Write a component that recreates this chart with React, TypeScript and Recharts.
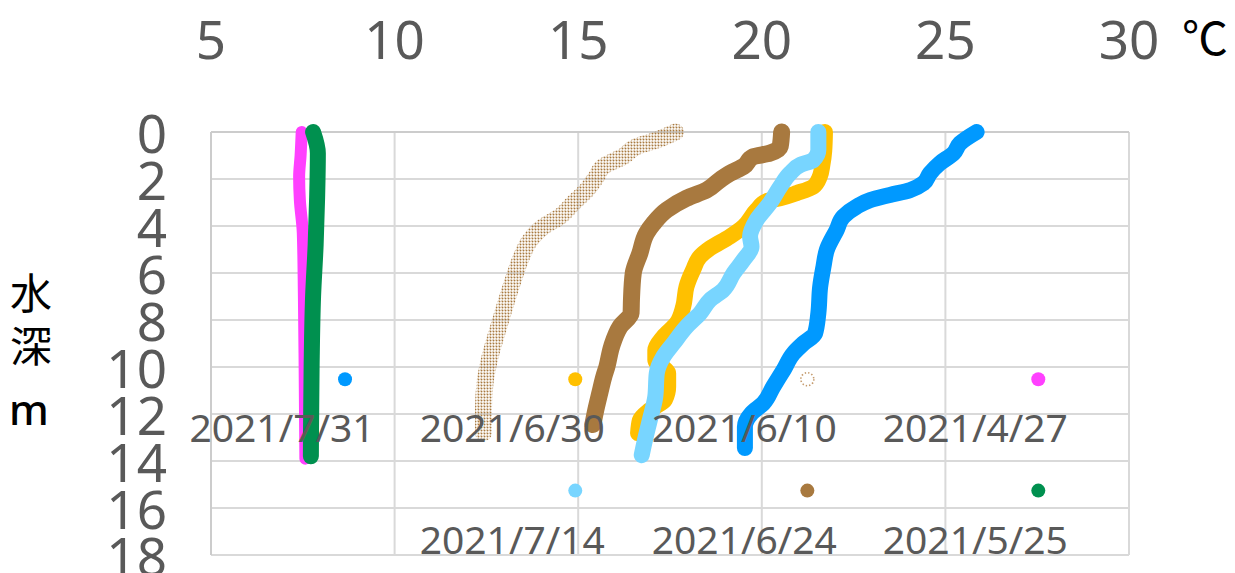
import { CartesianGrid, Scatter, ScatterChart, XAxis, YAxis } from "recharts";

type Pt = { t: number; d: number };
const toPts = (rows: number[][]): Pt[] => rows.map(([t, d]) => ({ t, d }));

// water temperature (°C) vs depth (m)
const apr27 = toPts([
  [7.47, 0], [7.44, 1], [7.4, 1.9], [7.42, 2.9], [7.5, 4.3], [7.53, 7], [7.55, 10], [7.57, 13.9],
]);
const may25 = toPts([
  [7.78, 0], [7.91, 0.9], [7.89, 2.8], [7.85, 4.8], [7.78, 7], [7.74, 10], [7.72, 13.8],
]);
const jun10 = toPts([
  [17.65, 0], [17.14, 0.34], [16.59, 0.62], [16.22, 1.05], [15.68, 1.47], [15.5, 1.9],
  [15.23, 2.47], [14.86, 3.03], [14.5, 3.6], [14.05, 4.03], [13.69, 4.6], [13.46, 5.3],
  [13.23, 6.3], [13.0, 7.43], [12.78, 8.57], [12.6, 9.56], [12.46, 10.7], [12.42, 11.83],
  [12.42, 12.8],
]);
const jun24 = toPts([
  [20.54, 0], [20.5, 0.62], [20.22, 0.9], [19.77, 1.05], [19.5, 1.47], [19.13, 1.76],
  [18.86, 2.04], [18.5, 2.47], [17.95, 2.82], [17.41, 3.32], [17.05, 3.89], [16.86, 4.31],
  [16.68, 5.16], [16.5, 6.0], [16.45, 7.15], [16.44, 7.7], [16.14, 8.28], [15.91, 9.13],
  [15.78, 10.0], [15.7, 10.4], [15.59, 11.1], [15.46, 11.97], [15.4, 12.45],
]);
const jun30 = toPts([
  [21.72, 0], [21.7, 0.8], [21.65, 1.4], [21.58, 1.9], [21.4, 2.33], [20.95, 2.6],
  [20.5, 2.82], [20.13, 2.95], [19.86, 3.32], [19.5, 4.03], [19.13, 4.45], [18.59, 4.95],
  [18.32, 5.3], [18.13, 5.87], [17.95, 6.58], [17.86, 7.43], [17.68, 8.14], [17.32, 8.71],
  [17.1, 9.28], [17.1, 9.7], [17.45, 10.27], [17.45, 10.84], [17.36, 11.4], [16.95, 11.83],
  [16.68, 12.26], [16.63, 12.82],
]);
const jul14 = toPts([
  [21.54, 0], [21.54, 0.77], [21.4, 1.2], [21.05, 1.4], [20.77, 1.76], [20.5, 2.33],
  [20.22, 3.03], [19.86, 3.74], [19.68, 4.45], [19.72, 4.88], [19.5, 5.45], [19.23, 6.01],
  [18.95, 6.72], [18.59, 7.15], [18.32, 7.71], [17.95, 8.28], [17.59, 9.0], [17.32, 9.56],
  [17.14, 10.27], [17.1, 11.26], [16.95, 12.26], [16.82, 13.1], [16.73, 13.75],
]);
const jul31 = toPts([
  [25.85, 0], [25.4, 0.48], [25.22, 0.91], [24.85, 1.33], [24.58, 1.76], [24.4, 2.18],
  [24.04, 2.47], [23.49, 2.68], [22.95, 2.9], [22.58, 3.18], [22.22, 3.6], [22.04, 4.17],
  [21.77, 5.02], [21.68, 5.73], [21.59, 6.58], [21.54, 7.71], [21.45, 8.57], [21.13, 9.0],
  [20.86, 9.42], [20.59, 10.13], [20.31, 10.84], [20.04, 11.55], [19.72, 11.97],
  [19.54, 12.54], [19.54, 13.45],
]);

// key markers (one point per date) drawn inside the plot
const keyTemps = [8.65, 14.92, 21.24, 27.53];
const keyDepths = [10.52, 15.26];
const keyRow1 = ["2021/7/31", "2021/6/30", "2021/6/10", "2021/4/27"];
const keyRow2 = ["", "2021/7/14", "2021/6/24", "2021/5/25"];

const tempTicks = [5, 10, 15, 20, 25, 30];
const depthTicks = [0, 2, 4, 6, 8, 10, 12, 14, 16, 18];

const GRAY = "#595959";
const FONT = "'Noto Sans', sans-serif";
const CJK = "'Noto Sans CJK JP', sans-serif";

const series = [
  { name: "2021/4/27", data: apr27, color: "#FF40FF", width: 12 },
  { name: "2021/5/25", data: may25, color: "#00904F", width: 16 },
  { name: "2021/6/10", data: jun10, color: "url(#dots)", width: 17 },
  { name: "2021/6/24", data: jun24, color: "#A8793F", width: 17 },
  { name: "2021/6/30", data: jun30, color: "#FFC000", width: 16 },
  { name: "2021/7/14", data: jul14, color: "#78D5FF", width: 16 },
  { name: "2021/7/31", data: jul31, color: "#0099FF", width: 16 },
];

const keyColors: Record<string, string> = {
  "2021/7/31": "#0099FF",
  "2021/6/30": "#FFC000",
  "2021/6/10": "dotted",
  "2021/4/27": "#FF40FF",
  "2021/7/14": "#78D5FF",
  "2021/6/24": "#A8793F",
  "2021/5/25": "#00904F",
};

const keyData = [
  ...keyRow1.map((label, i) => ({ t: keyTemps[i], d: keyDepths[0], label })),
  ...keyRow2.map((label, i) => ({ t: keyTemps[i], d: keyDepths[1], label })).filter((k) => k.label),
];

const noMarker = () => <g />;

const KeyMarker = (props: any) => {
  const { cx, cy, payload } = props;
  const c = keyColors[payload.label];
  return (
    <g>
      {c === "dotted" ? (
        <circle cx={cx} cy={cy} r={6.5} fill="none" stroke="#C49A6C" strokeWidth={1.6} strokeDasharray="1.4 2" />
      ) : (
        <circle cx={cx} cy={cy} r={7} fill={c} />
      )}
      <text x={cx - 63} y={cy + 63} textAnchor="middle" fontSize={39} fill={GRAY} fontFamily={FONT}>
        {payload.label}
      </text>
    </g>
  );
};

const TopTick = (props: any) => {
  const { x, payload } = props;
  return (
    <g>
      <text x={x} y={59} textAnchor="middle" fontSize={53} fill={GRAY} fontFamily={FONT}>
        {payload.value}
      </text>
      {payload.value === 30 && (
        <text x={x + 76} y={55} textAnchor="middle" fontSize={46} fill="#000" fontFamily={CJK}>
          ℃
        </text>
      )}
    </g>
  );
};

const LeftTick = (props: any) => {
  const { y, payload } = props;
  return (
    <text x={167} y={y + 21} textAnchor="end" fontSize={53} fill={GRAY} fontFamily={FONT}>
      {payload.value}
    </text>
  );
};

const depthTitle = () => (
  <g fill="#000">
    <text x={31} y={309} textAnchor="middle" fontSize={42} fontFamily={CJK}>水</text>
    <text x={31} y={362} textAnchor="middle" fontSize={42} fontFamily={CJK}>深</text>
    <text x={29} y={425} textAnchor="middle" fontSize={42} fontWeight={500} fontFamily={FONT}>m</text>
  </g>
);

export default function App() {
  return (
    <div style={{ position: "relative", margin: "-8px 0 0 -8px", width: 1235, height: 573 }}>
      <svg width={0} height={0} style={{ position: "absolute" }}>
        <defs>
          <pattern id="dots" width={3} height={3} patternUnits="userSpaceOnUse">
            <circle cx={1.5} cy={1.5} r={1} fill="#A8793F" />
            <circle cx={0} cy={0} r={0.5} fill="#A8793F" />
          </pattern>
        </defs>
      </svg>
      <ScatterChart width={1235} height={573} margin={{ top: 0, right: 106, bottom: 18, left: 0 }}>
        <CartesianGrid stroke="#D9D9D9" strokeWidth={2} />
        <XAxis
          type="number"
          dataKey="t"
          orientation="top"
          domain={[5, 30]}
          ticks={tempTicks}
          height={132}
          axisLine={{ stroke: "#CCCCCC", strokeWidth: 2 }}
          tickLine={false}
          tick={<TopTick />}
          interval={0}
        />
        <YAxis
          type="number"
          dataKey="d"
          reversed
          domain={[0, 18]}
          ticks={depthTicks}
          width={211}
          axisLine={{ stroke: "#CCCCCC", strokeWidth: 2 }}
          tickLine={false}
          tick={<LeftTick />}
          interval={0}
          label={depthTitle}
        />
        {series.map((s) => (
          <Scatter
            key={s.name}
            name={s.name}
            data={s.data}
            shape={noMarker}
            line={{ stroke: s.color, strokeWidth: s.width, strokeLinecap: "round", strokeLinejoin: "round" }}
            lineJointType="monotoneY"
            isAnimationActive={false}
          />
        ))}
        <Scatter name="key" data={keyData} shape={<KeyMarker />} isAnimationActive={false} />
      </ScatterChart>
    </div>
  );
}
